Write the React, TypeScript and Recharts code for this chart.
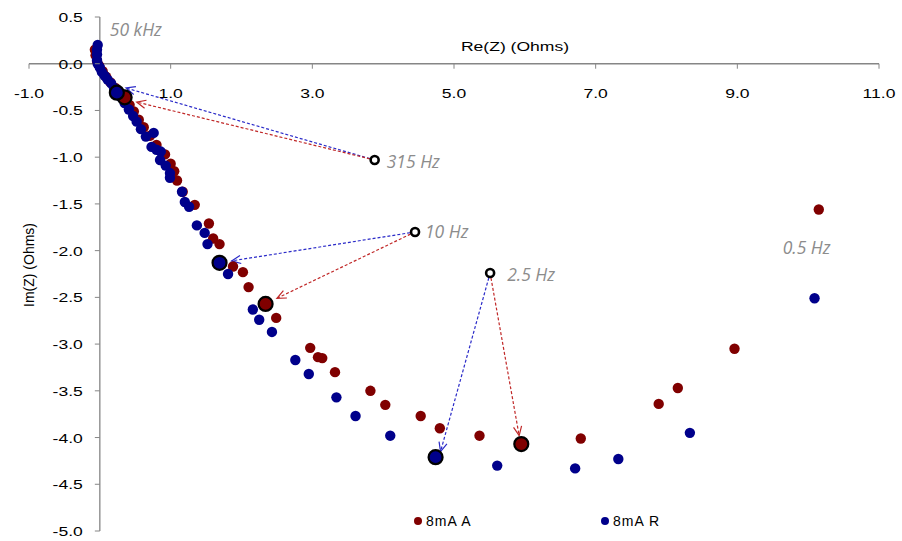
import React from 'react';
import { ScatterChart, Scatter, XAxis, YAxis, ReferenceLine, Legend } from 'recharts';

// Nyquist plot, 8mA anode (A) vs reference (R)
const W = 902;
const H = 541;
const MARGIN = { top: 0, right: 23, bottom: 10, left: 0 };
const X_AXIS_H = 17;
const Y_AXIS_W = 29;
const X_DOMAIN: [number, number] = [-1, 11];
const Y_DOMAIN: [number, number] = [-5, 0.5];
const xTicks = [-1, 1, 3, 5, 7, 9, 11];
const yTicks = [0.5, 0, -0.5, -1, -1.5, -2, -2.5, -3, -3.5, -4, -4.5, -5];

const RED = '#800000';
const BLUE = '#00008B';
const AXIS = '#868686';

// [Re, Im] pairs, high -> low frequency
const series8mA_A: [number, number][] = [
  [-0.07, 0.15], [-0.06, 0.09], [-0.04, 0.03], [-0.01, -0.02], [0.04, -0.08], [0.09, -0.14],
  [0.15, -0.2], [0.22, -0.26], [0.35, -0.36], [0.42, -0.44], [0.48, -0.51], [0.55, -0.6],
  [0.62, -0.68], [0.71, -0.77], [0.8, -0.87], [0.92, -0.97], [1.0, -1.07], [1.05, -1.15],
  [1.09, -1.25], [1.17, -1.37], [1.34, -1.51], [1.54, -1.71], [1.6, -1.87], [1.69, -1.93],
  [1.88, -2.17], [2.02, -2.23], [2.1, -2.39], [2.34, -2.57], [2.49, -2.72], [2.97, -3.04],
  [3.08, -3.14], [3.14, -3.15], [3.32, -3.3], [3.82, -3.5], [4.03, -3.65], [4.53, -3.77],
  [4.8, -3.9], [5.36, -3.98], [5.95, -4.07], [6.79, -4.01], [7.89, -3.64], [8.16, -3.47],
  [8.96, -3.05], [10.15, -1.56],
];

const series8mA_R: [number, number][] = [
  [-0.03, 0.2], [-0.04, 0.15], [-0.04, 0.1], [-0.04, 0.04], [-0.03, 0.0], [0.0, -0.04],
  [0.03, -0.09], [0.07, -0.13], [0.11, -0.17], [0.16, -0.21], [0.2, -0.26], [0.24, -0.31],
  [0.3, -0.36], [0.35, -0.42], [0.41, -0.49], [0.47, -0.56], [0.52, -0.62], [0.58, -0.7],
  [0.65, -0.78], [0.76, -0.74], [0.73, -0.89], [0.8, -0.92], [0.86, -0.94], [0.85, -1.03],
  [0.93, -1.09], [0.99, -1.17], [0.99, -1.22], [1.16, -1.37], [1.2, -1.48], [1.26, -1.53],
  [1.37, -1.73], [1.48, -1.81], [1.52, -1.93], [1.69, -2.13], [1.81, -2.25], [2.16, -2.63],
  [2.25, -2.74], [2.43, -2.87], [2.76, -3.17], [2.95, -3.32], [3.34, -3.57], [3.61, -3.77],
  [4.1, -3.98], [4.74, -4.21], [5.61, -4.3], [6.71, -4.33], [7.32, -4.23], [8.33, -3.95],
  [10.09, -2.51],
];

// highlighted frequencies (315 Hz, 10 Hz, 2.5 Hz)
const highlightA: [number, number][] = [[0.35, -0.36], [2.34, -2.57], [5.95, -4.07]];
const highlightR: [number, number][] = [[0.24, -0.31], [1.69, -2.13], [4.74, -4.21]];
const calloutPoints: [number, number][] = [[3.88, -1.03], [4.45, -1.8], [5.51, -2.24]];

const freqLabels = ['50 kHz', '315 Hz', '10 Hz', '2.5 Hz', '0.5 Hz'];
const freqLabelPos: [number, number][] = [[0.14, 0.36], [4.05, -1.05], [4.59, -1.8], [5.75, -2.26], [9.64, -1.97]];

// arrows from callout circle to the highlighted point
const arrowsR: [number, number][][] = [
  [[3.88, -1.03], [0.37, -0.26]],
  [[4.45, -1.8], [1.86, -2.11]],
  [[5.51, -2.24], [4.81, -4.15]],
];
const arrowsA: [number, number][][] = [
  [[3.88, -1.03], [0.52, -0.41]],
  [[4.45, -1.8], [2.5, -2.51]],
  [[5.51, -2.24], [5.92, -3.98]],
];

const toPts = (arr: [number, number][]) => arr.map(([x, y]) => ({ x, y }));

const plotLeft = MARGIN.left + Y_AXIS_W;
const plotTop = MARGIN.top + X_AXIS_H;
const plotW = W - plotLeft - MARGIN.right;
const plotH = H - plotTop - MARGIN.bottom;
// where the axes cross (x = 0, y = 0)
const X0 = plotLeft + (plotW * (0 - X_DOMAIN[0])) / (X_DOMAIN[1] - X_DOMAIN[0]);
const Y0 = plotTop + (plotH * (Y_DOMAIN[1] - 0)) / (Y_DOMAIN[1] - Y_DOMAIN[0]);

const FONT = '"Liberation Sans", Arial, sans-serif';

const XTick = ({ x, payload }: any) => (
  <g>
    <line x1={x} x2={x} y1={Y0} y2={Y0 + 5} stroke={AXIS} />
    <text
      transform={`translate(${x},${Y0 + 34}) scale(1.3,1)`}
      textAnchor="middle"
      fontSize={13.5}
      fontFamily={FONT}
      fill="#000"
    >
      {Number(payload.value).toFixed(1)}
    </text>
  </g>
);

const YTick = ({ y, payload }: any) => (
  <g>
    <line x1={X0 - 5} x2={X0} y1={y} y2={y} stroke={AXIS} />
    <text
      transform={`translate(${X0 - 17},${y + 5}) scale(1.3,1)`}
      textAnchor="end"
      fontSize={13.5}
      fontFamily={FONT}
      fill="#000"
    >
      {Number(payload.value).toFixed(1)}
    </text>
  </g>
);

const dot = (color: string) => (props: any) =>
  <circle cx={props.cx} cy={props.cy} r={5.2} fill={color} />;

const bigDot = (color: string) => (props: any) =>
  <circle cx={props.cx} cy={props.cy} r={7} fill={color} stroke="#000" strokeWidth={2.2} />;

const hollowDot = (props: any) =>
  <circle cx={props.cx} cy={props.cy} r={4} fill="#fff" stroke="#000" strokeWidth={2.6} />;

const freqText = (props: any) => (
  <text
    x={props.cx}
    y={props.cy}
    dy="0.35em"
    fontSize={17.5}
    fontStyle="italic"
    fontFamily='"Open Sans", sans-serif'
    fill="#8c8c8c"
  >
    {props.payload.label}
  </text>
);

const Arrow = (props: any) => {
  const { x1, y1, x2, y2, stroke } = props;
  const a = Math.atan2(y2 - y1, x2 - x1);
  const L = 10;
  const s = 0.42;
  const p1 = `${x2 - L * Math.cos(a - s)},${y2 - L * Math.sin(a - s)}`;
  const p2 = `${x2 - L * Math.cos(a + s)},${y2 - L * Math.sin(a + s)}`;
  return (
    <g>
      <line x1={x1} y1={y1} x2={x2} y2={y2} stroke={stroke} strokeWidth={1.2} strokeDasharray="3 2" />
      <polyline points={`${p1} ${x2},${y2} ${p2}`} fill="none" stroke={stroke} strokeWidth={1.2} />
    </g>
  );
};

const LegendBox = () => {
  const items = [
    { name: '8mA A', color: RED, left: 414 },
    { name: '8mA R', color: BLUE, left: 601 },
  ];
  return (
    <div style={{ position: 'relative', height: 20, fontFamily: FONT, fontSize: 14 }}>
      {items.map((it) => (
        <div key={it.name} style={{ position: 'absolute', left: it.left, top: 0, display: 'flex', alignItems: 'center', height: 20 }}>
          <span style={{ width: 8, height: 8, borderRadius: 4, background: it.color, display: 'inline-block', marginRight: 4 }} />
          <span style={{ color: '#000', letterSpacing: 1 }}>{it.name}</span>
        </div>
      ))}
    </div>
  );
};

export default function App() {
  const labelData = freqLabels.map((label, i) => ({ x: freqLabelPos[i][0], y: freqLabelPos[i][1], label }));
  return (
    <div style={{ position: 'absolute', left: 0, top: 0, width: W, height: H, background: '#fff' }}>
      <ScatterChart width={W} height={H} margin={MARGIN}>
        <XAxis
          type="number"
          dataKey="x"
          domain={X_DOMAIN}
          ticks={xTicks}
          interval={0}
          orientation="top"
          height={X_AXIS_H}
          axisLine={false}
          tickLine={false}
          tick={<XTick />}
          allowDataOverflow
        />
        <YAxis
          type="number"
          dataKey="y"
          domain={Y_DOMAIN}
          ticks={yTicks}
          interval={0}
          width={Y_AXIS_W}
          axisLine={false}
          tickLine={false}
          tick={<YTick />}
          allowDataOverflow
        />
        <ReferenceLine y={0} stroke={AXIS} strokeWidth={1.3} />
        <ReferenceLine x={0} stroke={AXIS} strokeWidth={1.3} />
        {arrowsR.map((seg, i) => (
          <ReferenceLine
            key={'r' + i}
            segment={[{ x: seg[0][0], y: seg[0][1] }, { x: seg[1][0], y: seg[1][1] }]}
            stroke="#2a2ac8"
            shape={<Arrow />}
          />
        ))}
        {arrowsA.map((seg, i) => (
          <ReferenceLine
            key={'a' + i}
            segment={[{ x: seg[0][0], y: seg[0][1] }, { x: seg[1][0], y: seg[1][1] }]}
            stroke="#c02828"
            shape={<Arrow />}
          />
        ))}
        <Scatter name="8mA A" data={toPts(series8mA_A)} fill={RED} shape={dot(RED)} isAnimationActive={false} />
        <Scatter name="8mA R" data={toPts(series8mA_R)} fill={BLUE} shape={dot(BLUE)} isAnimationActive={false} />
        <Scatter name="hA" data={toPts(highlightA)} fill={RED} shape={bigDot(RED)} legendType="none" isAnimationActive={false} />
        <Scatter name="hR" data={toPts(highlightR)} fill={BLUE} shape={bigDot(BLUE)} legendType="none" isAnimationActive={false} />
        <Scatter name="callout" data={toPts(calloutPoints)} fill="#fff" shape={hollowDot} legendType="none" isAnimationActive={false} />
        <Scatter name="labels" data={labelData} fill="#8c8c8c" shape={freqText} legendType="none" isAnimationActive={false} />
        <Legend
          layout="horizontal"
          verticalAlign="middle"
          align="center"
          wrapperStyle={{ top: 511, left: 0, width: W }}
          content={<LegendBox />}
        />
        <text transform={`translate(515,${Y0 - 13}) scale(1.3,1)`} textAnchor="middle" fontSize={13.5} fontFamily={FONT} fill="#000">
          Re(Z) (Ohms)
        </text>
        <text transform="translate(34,265) rotate(-90)" textAnchor="middle" fontSize={14} fontFamily={FONT} fill="#000">
          Im(Z) (Ohms)
        </text>
      </ScatterChart>
    </div>
  );
}
